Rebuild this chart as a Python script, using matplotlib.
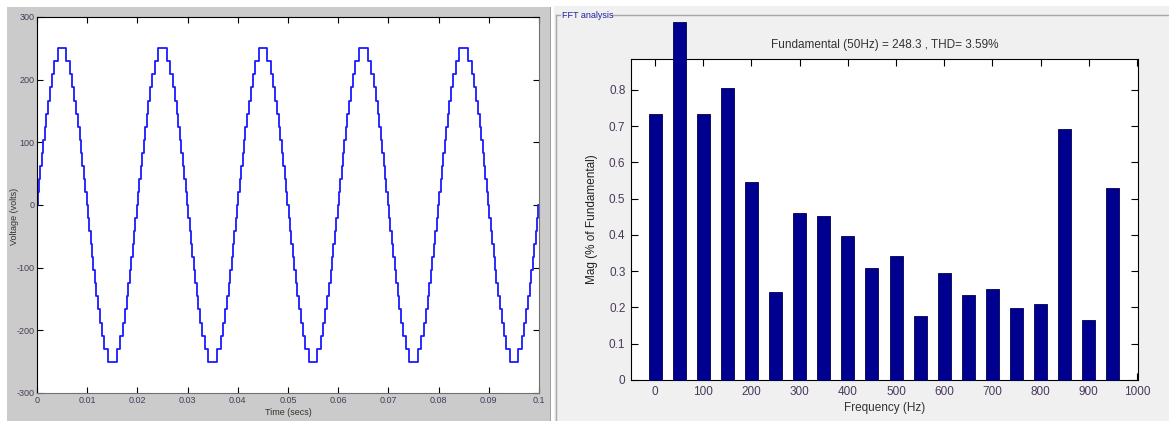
import numpy as np
import matplotlib.pyplot as plt
from matplotlib.patches import Rectangle
from matplotlib.lines import Line2D

plt.rcParams['font.family'] = ['Liberation Sans Narrow', 'Liberation Sans', 'DejaVu Sans']
plt.rcParams['axes.unicode_minus'] = False

# staircase output (quarter cycle)
step_ms = [0.13, 0.40, 0.67, 0.95, 1.23, 1.53, 1.84, 2.17, 2.53, 2.94, 3.43, 4.15]
levels = [20.8, 41.7, 62.5, 83.3, 104.2, 125.0, 145.8, 166.7, 187.5, 208.3, 229.2, 250.0]
period_ms = 20.0
n_cycles = 5

# FFT bars
freqs = [0, 50, 100, 150, 200, 250, 300, 350, 400, 450, 500, 550, 600, 650, 700, 750, 800, 850, 900, 950]
mags = [0.734, 0.988, 0.734, 0.806, 0.546, 0.243, 0.461, 0.452, 0.397, 0.309,
        0.342, 0.177, 0.295, 0.234, 0.251, 0.199, 0.210, 0.692, 0.166, 0.530]
fft_title = 'Fundamental (50Hz) = 248.3 , THD= 3.59%'

# build one period of the step trace from the quarter-cycle data
half = period_ms / 2
t1 = [0.0] + step_ms + [half - s for s in step_ms[::-1]]
v1 = [0.0] + levels + levels[::-1][1:] + [0.0]
t_per = t1 + [half + s for s in t1]
v_per = v1 + [-v for v in v1]
t_all, v_all = [], []
for c in range(n_cycles):
    t_all += [c * period_ms + s for s in t_per]
    v_all += v_per
t_all.append(n_cycles * period_ms)
v_all.append(0.0)
t_all = np.array(t_all) / 1000.0
v_all = np.array(v_all)

fig = plt.figure(figsize=(11.69, 4.21), dpi=100)
fig.patch.set_facecolor('white')

W, H = 1169.0, 421.0
def fx(px):
    return px / W
def fy(py):
    return 1 - py / H

# panel backgrounds (behind the axes)
fig.patches.append(Rectangle((fx(7), 0), fx(551) - fx(7), fy(7), transform=fig.transFigure,
                             facecolor='#cbcbcb', edgecolor='none', zorder=-5))
fig.patches.append(Rectangle((fx(550), 0), fx(1), fy(7), transform=fig.transFigure,
                             facecolor='#a0a0a0', edgecolor='none', zorder=-5))
fig.patches.append(Rectangle((fx(554), 0), 1 - fx(554), fy(6), transform=fig.transFigure,
                             facecolor='#f0f0f0', edgecolor='none', zorder=-5))
# group frame of the FFT panel
for xs, ys in [([556, 556], [421, 15]), ([556, 560], [15, 15]), ([612, 1169], [15, 15])]:
    fig.lines.append(Line2D([fx(x) for x in xs], [fy(y) for y in ys], transform=fig.transFigure,
                            color='#a8a8a8', lw=1, zorder=-4))
fig.text(fx(562), fy(15), 'FFT analysis', fontsize=6.5, color='#2020a0', va='center', ha='left')

# left: voltage waveform
ax1 = fig.add_axes([fx(37), fy(393), fx(539) - fx(37), fy(17) - fy(393)])
ax1.step(t_all, v_all, where='post', color='#1a1aff', lw=1.3)
ax1.set_xlim(0, 0.1)
ax1.set_ylim(-300, 300)
ax1.set_xticks(np.arange(0, 0.1001, 0.01))
ax1.set_xticklabels(['0', '0.01', '0.02', '0.03', '0.04', '0.05', '0.06', '0.07', '0.08', '0.09', '0.1'])
ax1.set_yticks([-300, -200, -100, 0, 100, 200, 300])
ax1.tick_params(direction='in', top=True, right=True, length=4, width=0.8,
                labelsize=6.5, labelcolor='#4a3a5a', pad=2)
ax1.set_xlabel('Time (secs)', fontsize=6.5, color='#333333', labelpad=2)
ax1.set_ylabel('Voltage (volts)', fontsize=6.5, color='#333333')
ax1.yaxis.set_label_coords(-0.036, 0.47)
for s in ['top', 'left']:
    ax1.spines[s].set_color('black')
for s in ['bottom', 'right']:
    ax1.spines[s].set_color('#707070')

# right: FFT bars
ax2 = fig.add_axes([fx(631), fy(380), fx(1138) - fx(631), fy(59) - fy(380)])
ax2.bar(freqs, mags, width=27, color='#000090', edgecolor='#000050', lw=0.6, clip_on=False, zorder=3)
ax2.set_xlim(-50, 1002)
ax2.set_ylim(0, 0.885)
ax2.set_xticks(np.arange(0, 1001, 100))
ax2.set_yticks(np.arange(0, 0.81, 0.1))
ax2.set_yticklabels(['0', '0.1', '0.2', '0.3', '0.4', '0.5', '0.6', '0.7', '0.8'])
ax2.tick_params(direction='in', top=True, right=True, length=5, width=0.8,
                labelsize=8.5, labelcolor='#4a3a5a', pad=4)
ax2.set_xlabel('Frequency (Hz)', fontsize=8.5, color='#333333', labelpad=3)
ax2.set_ylabel('Mag (% of Fundamental)', fontsize=8.5, color='#222222', labelpad=8,
               family=['Liberation Sans', 'DejaVu Sans'])
ax2.set_title(fft_title, fontsize=8.5, color='#333333', pad=8)

plt.savefig('out.png', dpi=100)
